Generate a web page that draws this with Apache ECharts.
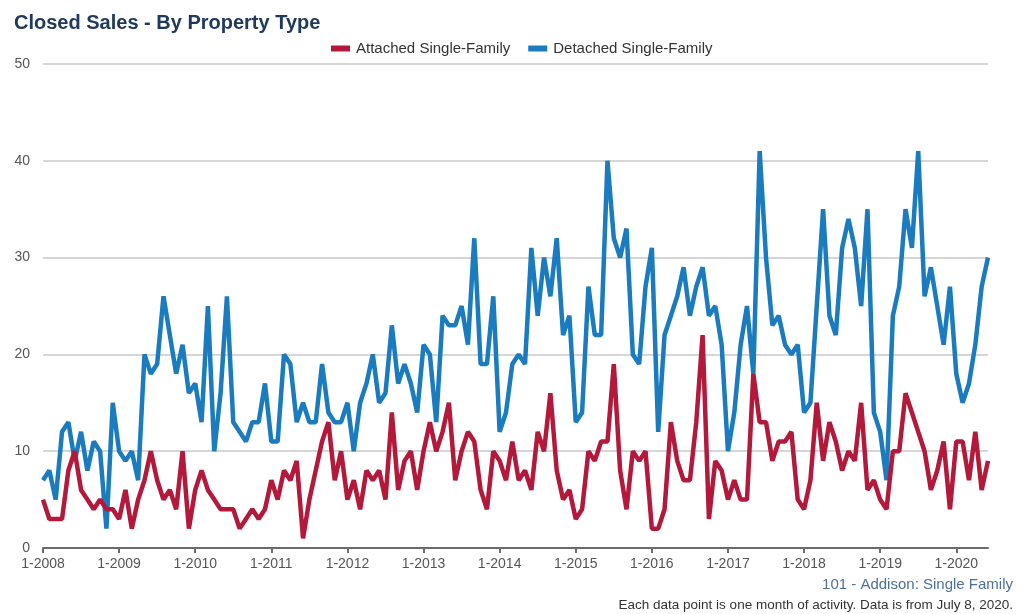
<!DOCTYPE html>
<html>
<head>
<meta charset="utf-8">
<script src="https://cdn.jsdelivr.net/npm/echarts@6/dist/echarts.min.js"></script>
<style>
html,body{margin:0;padding:0;background:#fff;}
#chart{width:1023px;height:614px;}
</style>
</head>
<body>
<div id="chart"></div>
<script>
// Monthly categories Jan 2008 .. Jun 2020
var startYear = 2008;
var monthCount = 150;
var categories = [];
for (var k = 0; k < monthCount; k++) {
  categories.push(((k % 12) + 1) + '-' + (startYear + Math.floor(k / 12)));
}

var attached = [
  5, 3, 3, 3, 8, 10, 6, 5, 4, 5, 4, 4,
  3, 6, 2, 5, 7, 10, 7, 5, 6, 4, 10, 2,
  6, 8, 6, 5, 4, 4, 4, 2, 3, 4, 3, 4,
  7, 5, 8, 7, 9, 1, 5, 8, 11, 13, 7, 10,
  5, 7, 4, 8, 7, 8, 5, 14, 6, 9, 10, 6,
  10, 13, 10, 12, 15, 7, 10, 12, 11, 6, 4, 10,
  9, 7, 11, 7, 8, 6, 12, 10, 16, 8, 5, 6,
  3, 4, 10, 9, 11, 11, 19, 8, 4, 10, 9, 10,
  2, 2, 4, 13, 9, 7, 7, 13, 22, 3, 9, 8,
  5, 7, 5, 5, 18, 13, 13, 9, 11, 11, 12, 5,
  4, 7, 15, 9, 13, 11, 8, 10, 9, 15, 6, 7,
  5, 4, 10, 10, 16, 14, 12, 10, 6, 8, 11, 4,
  11, 11, 7, 12, 6, 9
];

var detached = [
  7, 8, 5, 12, 13, 9, 12, 8, 11, 10, 2, 15,
  10, 9, 10, 7, 20, 18, 19, 26, 22, 18, 21, 16,
  17, 13, 25, 10, 16, 26, 13, 12, 11, 13, 13, 17,
  11, 11, 20, 19, 13, 15, 13, 13, 19, 14, 13, 13,
  15, 10, 15, 17, 20, 15, 16, 23, 17, 19, 17, 14,
  21, 20, 13, 24, 23, 23, 25, 21, 32, 19, 19, 26,
  12, 14, 19, 20, 19, 31, 24, 30, 26, 32, 22, 24,
  13, 14, 27, 22, 22, 40, 32, 30, 33, 20, 19, 27,
  31, 12, 22, 24, 26, 29, 24, 27, 29, 24, 25, 21,
  10, 14, 21, 25, 18, 41, 30, 23, 24, 21, 20, 21,
  14, 15, 25, 35, 24, 22, 31, 34, 31, 25, 35, 14,
  12, 7, 24, 27, 35, 31, 41, 26, 29, 25, 21, 27,
  18, 15, 17, 21, 27, 30
];

var yTicks = [0, 10, 20, 30, 40, 50];

var chart = echarts.init(document.getElementById('chart'));
var font = '"Liberation Sans", Arial, sans-serif';
chart.setOption({
  animation: false,
  textStyle: { fontFamily: font },
  title: [{
    text: 'Closed Sales - By Property Type',
    left: 9, top: 8,
    textStyle: { fontFamily: font, fontSize: 20, fontWeight: 'bold', color: '#213a5c' }
  }, {
    text: '101 - Addison: Single Family',
    right: 5, top: 572,
    textStyle: { fontFamily: font, fontSize: 15, fontWeight: 'normal', color: '#50709a' }
  }, {
    text: 'Each data point is one month of activity. Data is from July 8, 2020.',
    right: 5, top: 593,
    textStyle: { fontFamily: font, fontSize: 13.5, fontWeight: 'normal', color: '#333333' }
  }],
  legend: {
    left: 326, top: 36,
    itemWidth: 19, itemHeight: 6, itemGap: 18,
    icon: 'rect',
    data: ['Attached Single-Family', 'Detached Single-Family'],
    textStyle: { fontFamily: font, fontSize: 15, color: '#333333', padding: [0, 0, 0, 1] }
  },
  grid: { left: 43, right: 35, top: 64, bottom: 66, containLabel: false },
  xAxis: {
    type: 'category',
    data: categories,
    boundaryGap: false,
    axisLine: { show: true, lineStyle: { color: '#6b6b6b', width: 2 } },
    axisTick: {
      show: true, length: 5, lineStyle: { color: '#6b6b6b', width: 2 },
      interval: function (idx) { return idx % 12 === 0; }
    },
    axisLabel: {
      interval: function (idx) { return idx % 12 === 0; },
      color: '#555555', fontSize: 14, margin: 9, fontFamily: font
    },
    splitLine: { show: false }
  },
  yAxis: {
    type: 'value',
    min: yTicks[0], max: yTicks[yTicks.length - 1], interval: 10,
    axisLine: { show: false },
    axisTick: { show: false },
    axisLabel: { color: '#555555', fontSize: 14, margin: 13, fontFamily: font },
    splitLine: { lineStyle: { color: '#c8c8c8', width: 1.5 } }
  },
  series: [{
    name: 'Detached Single-Family',
    type: 'line',
    data: detached,
    showSymbol: false,
    symbol: 'none',
    z: 2,
    lineStyle: { color: '#1b7bbf', width: 4.5 },
    itemStyle: { color: '#1b7bbf' }
  }, {
    name: 'Attached Single-Family',
    type: 'line',
    data: attached,
    showSymbol: false,
    symbol: 'none',
    z: 3,
    lineStyle: { color: '#b3193b', width: 4.5 },
    itemStyle: { color: '#b3193b' }
  }]
});
</script>
</body>
</html>
